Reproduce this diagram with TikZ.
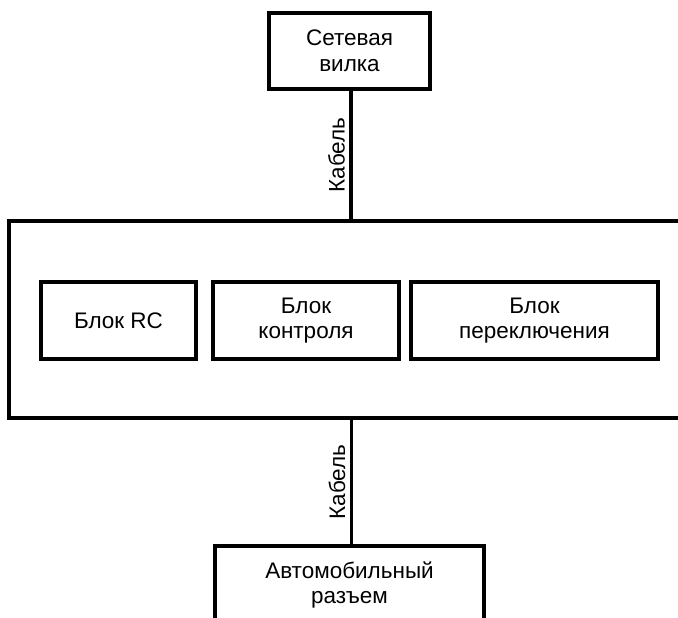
\documentclass[tikz,border=0pt]{standalone}
\usepackage{fontspec}
\setmainfont{Liberation Sans}
\begin{document}
\begin{tikzpicture}[x=1pt,y=-1pt,
  box/.style={draw,line width=3.4pt,inner sep=0pt,align=center,font=\fontsize{22.5}{25.5}\selectfont},
  wire/.style={line width=3.4pt},
  lbl/.style={rotate=90,anchor=south,inner sep=4.5pt,font=\fontsize{22.5}{25.5}\selectfont}]
\useasboundingbox (0,0) rectangle (678,618);
\clip (0,0) rectangle (678,618);
\node[box,minimum width=161pt,minimum height=76pt] (plug) at (349.5,51) {Сетевая\\вилка};
\node[box,minimum width=695pt,minimum height=197pt] (main) at (356.5,319.5) {};
\node[box,minimum width=155pt,minimum height=77pt] (rc) at (118.5,320.5) {Блок RC};
\node[box,minimum width=186pt,minimum height=77pt] (ctrl) at (306,320.5) {Блок\\контроля};
\node[box,minimum width=247pt,minimum height=77pt] (sw) at (534.5,320.5) {Блок\\переключения};
\node[box,minimum width=269pt,minimum height=100pt] (conn) at (349.5,596) {};
\node[font=\fontsize{22.5}{25.5}\selectfont,align=center] (conntext) at (349.5,585) {Автомобильный\\разъем};
\coordinate (t1) at ([xshift=1.5pt]plug.south);
\draw[wire] (t1) -- (t1 |- main.north) node[lbl,midway] {Кабель};
\coordinate (b1) at ([xshift=2pt]conn.north);
\draw[wire] (b1 |- main.south) -- (b1) node[lbl,midway] {Кабель};
\end{tikzpicture}
\end{document}
